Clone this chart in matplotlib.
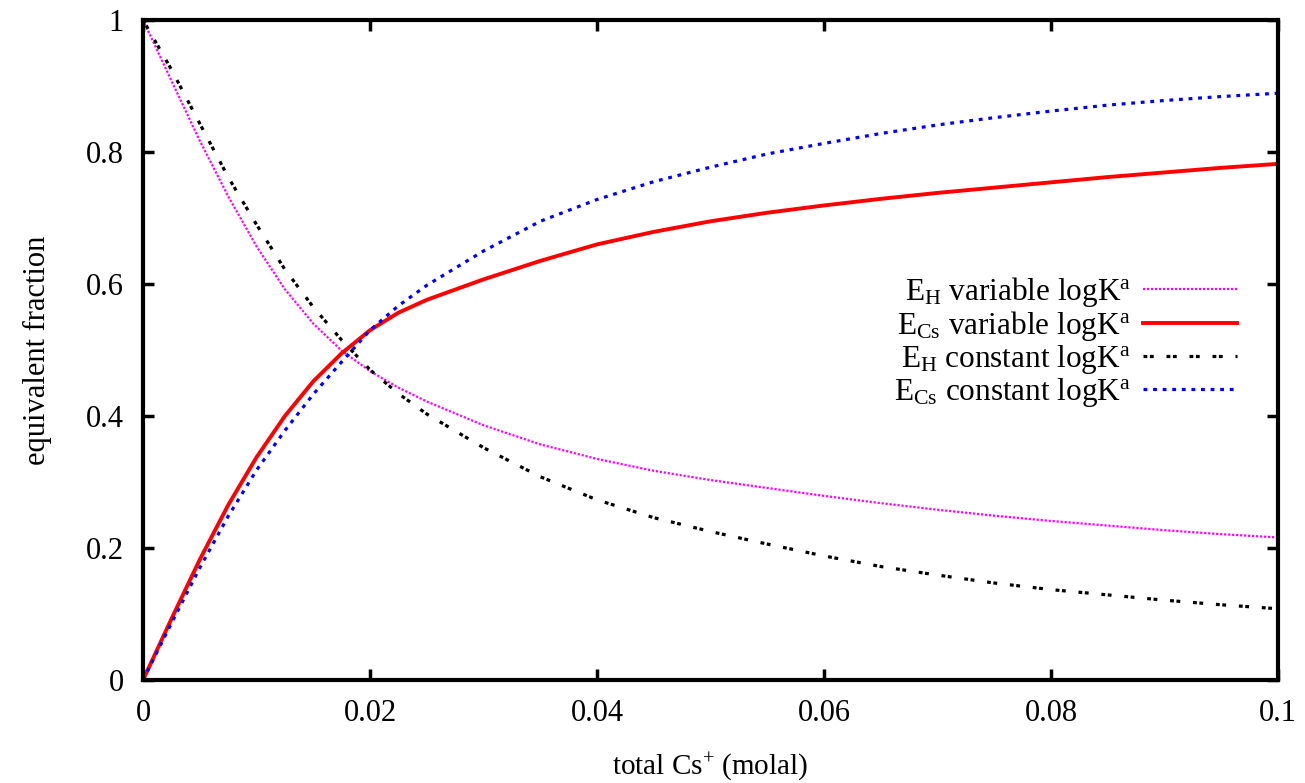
import matplotlib
matplotlib.use("Agg")
import matplotlib.pyplot as plt

plt.rcParams["font.family"] = ["Liberation Serif", "DejaVu Serif"]
plt.rcParams["mathtext.fontset"] = "custom"
plt.rcParams["mathtext.rm"] = "Liberation Serif"
plt.rcParams["mathtext.it"] = "Liberation Serif:italic"

# total Cs+ (molal)
cs_total = [0.0, 0.0025, 0.005, 0.0075, 0.01, 0.0125, 0.015, 0.0175, 0.02,
            0.0225, 0.025, 0.03, 0.035, 0.04, 0.045, 0.05, 0.055, 0.06, 0.065,
            0.07, 0.075, 0.08, 0.085, 0.09, 0.095, 0.1]

# equivalent fractions
eh_variable = [1.0, 0.908, 0.817, 0.733, 0.657, 0.592, 0.540, 0.499, 0.468,
               0.443, 0.422, 0.386, 0.357, 0.335, 0.317, 0.303, 0.291, 0.279,
               0.268, 0.258, 0.249, 0.241, 0.234, 0.227, 0.221, 0.216]
ecs_variable = [0.0, 0.0925, 0.1825, 0.265, 0.3375, 0.40, 0.4525, 0.495,
                0.53, 0.5565, 0.576, 0.607, 0.635, 0.66, 0.679, 0.695, 0.708,
                0.719, 0.729, 0.738, 0.746, 0.754, 0.762, 0.769, 0.776, 0.782]
eh_constant = [1.0, 0.925, 0.843, 0.762, 0.69, 0.622, 0.565, 0.515, 0.470,
               0.434, 0.403, 0.352, 0.308, 0.273, 0.246, 0.225, 0.206, 0.188,
               0.172, 0.159, 0.147, 0.137, 0.129, 0.121, 0.114, 0.108]
ecs_constant = [0.0, 0.086, 0.17, 0.248, 0.318, 0.378, 0.433, 0.482, 0.530,
                0.567, 0.598, 0.650, 0.695, 0.728, 0.755, 0.777, 0.797, 0.813,
                0.828, 0.841, 0.852, 0.862, 0.871, 0.878, 0.884, 0.889]

labels = [
    r"E$_{\rm H}$ variable logK$^{\rm a}$",
    r"E$_{\rm Cs}$ variable logK$^{\rm a}$",
    r"E$_{\rm H}$ constant logK$^{\rm a}$",
    r"E$_{\rm Cs}$ constant logK$^{\rm a}$",
]

x_ticks = [0, 0.02, 0.04, 0.06, 0.08, 0.1]
x_ticklabels = ["0", "0.02", "0.04", "0.06", "0.08", "0.1"]
y_ticks = [0, 0.2, 0.4, 0.6, 0.8, 1.0]
y_ticklabels = ["0", "0.2", "0.4", "0.6", "0.8", "1"]

fig = plt.figure(figsize=(13.05, 7.83), dpi=100)
ax = fig.add_axes([0.1096, 0.1315, 0.8697, 0.843])

ax.plot(cs_total, eh_variable, color="#ff00ff", lw=1.6,
        dashes=(1.0, 0.8), label=labels[0])
ax.plot(cs_total, ecs_variable, color="#ff0000", lw=2.8, label=labels[1])
ax.plot(cs_total, eh_constant, color="black", lw=2.3,
        dashes=(1.2, 0.8, 1.2, 4.0), label=labels[2])
ax.plot(cs_total, ecs_constant, color="#0000ff", lw=2.3,
        dashes=(1.2, 1.8), label=labels[3])

ax.set_xlim(0, 0.1)
ax.set_ylim(0, 1)
ax.set_xticks(x_ticks)
ax.set_xticklabels(x_ticklabels)
ax.set_yticks(y_ticks)
ax.set_yticklabels(y_ticklabels)
ax.tick_params(direction="in", length=8, width=2.5, top=True, right=True,
               labelsize=22, pad=14)
for sp in ax.spines.values():
    sp.set_linewidth(3)

ax.set_xlabel(r"total Cs$^{+}$ (molal)", fontsize=21, labelpad=16)
ax.set_ylabel("equivalent fraction", fontsize=22, labelpad=24)

ax.legend(loc="center right", bbox_to_anchor=(0.964, 0.512), frameon=False,
          markerfirst=False, fontsize=22.5, handlelength=3.0, labelspacing=0.0,
          handletextpad=0.4, borderpad=0, borderaxespad=0)

fig.savefig("out.png", dpi=100)
